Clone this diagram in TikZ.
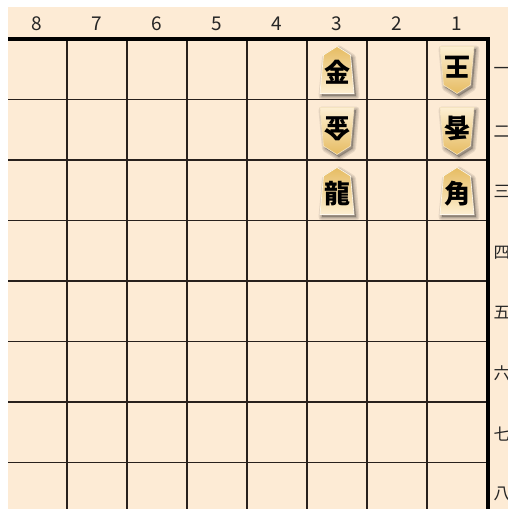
\documentclass[tikz,border=0pt]{standalone}
\usepackage{fontspec}
\newfontfamily\jp{Noto Sans CJK JP}
\definecolor{boardbg}{RGB}{253,235,213}
\definecolor{pgold}{RGB}{230,188,98}
\definecolor{plight}{RGB}{253,239,210}
\definecolor{gridc}{RGB}{40,32,28}
\tikzset{
  gridline/.style={draw=gridc, line width=1.2pt},
  border/.style={draw=black, line width=3.6pt},
  collabel/.style={font=\jp\fontsize{19}{19}\selectfont, text=black!85},
  rowlabel/.style={font=\jp\fontsize{16.5}{16.5}\selectfont, text=black!85, anchor=west, inner sep=0pt},
  piecechar/.style={font=\jp\bfseries\fontsize{26}{26}\selectfont, inner sep=0pt}
}
\newcommand\pieceoutline{(0,-23.5) -- (13.5,-15) -- (17,23.5) -- (-17,23.5) -- (-13.5,-15) -- cycle}
% #1 x, #2 y, #3 angle, #4 top colour, #5 bottom colour, #6 char, #7 name
\newcommand\shogipiece[7]{%
  \begin{scope}[shift={(#1+2,#2+2.5)}]
    \foreach \w in {7,4.5,2}{
      \filldraw[black, opacity=0.09, line width=\w pt, line join=round, rotate=#3] \pieceoutline;
    }
  \end{scope}
  \begin{scope}[shift={(#1,#2)}]
    \shade[top color=#4, bottom color=#5, rotate=#3] \pieceoutline;
    \draw[white!60!#5, line width=0.6pt, rotate=#3] \pieceoutline;
    \node[piecechar, rotate=#3] (#7) at (0,{#3==0 ? 2.5 : -2.5}) {#6};
  \end{scope}}
\begin{document}
\begin{tikzpicture}[x=1pt, y=-1pt]
  \useasboundingbox (0,0) rectangle (508,509);
  \fill[white] (0,0) rectangle (508,509);
  \fill[boardbg] (8,7) rectangle (508,509);
  % grid
  \foreach \k in {0,...,6}{
    \draw[gridline] ({67+60*\k},39) -- ({67+60*\k},509);
  }
  \foreach \k in {1,...,7}{
    \draw[gridline] (8,{39+60.5*\k}) -- (487,{39+60.5*\k});
  }
  \draw[border, line join=miter] (8,39) -- (488,39) -- (488,509);
  % column labels
  \foreach \n in {1,...,8}{
    \node[collabel] (c\n) at ({457-60*(\n-1)},24) {\n};
  }
  % row labels
  \foreach \r/\t in {1/一,2/二,3/三,4/四,5/五,6/六,7/七,8/八}{
    \node[rowlabel] (r\r) at (493.5,{39+60.5*(\r-0.5)+1.5}) {\t};
  }
  % pieces
  \shogipiece{337}{70}{0}{pgold}{plight}{金}{p31}
  \shogipiece{337}{131}{180}{plight}{pgold}{金}{p32}
  \shogipiece{337}{191}{0}{pgold}{plight}{龍}{p33}
  \shogipiece{457}{70}{180}{plight}{pgold}{王}{p11}
  \shogipiece{457}{131}{180}{plight}{pgold}{香}{p12}
  \shogipiece{457}{191}{0}{pgold}{plight}{角}{p13}
\end{tikzpicture}
\end{document}
